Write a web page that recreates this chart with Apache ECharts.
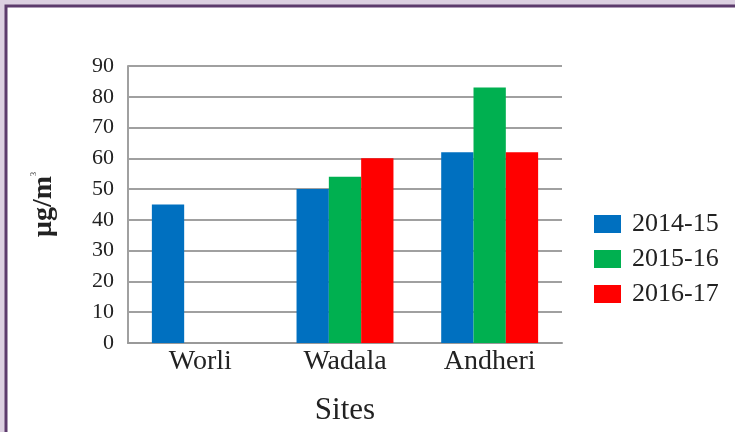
<!DOCTYPE html>
<html><head><meta charset="utf-8">
<script src="https://cdn.jsdelivr.net/npm/echarts@6/dist/echarts.min.js"></script>
<style>html,body{margin:0;padding:0;background:#dcd0e1;}#c{width:735px;height:432px;}</style>
</head><body><div id="c"></div>
<script>
var categories = ['Worli', 'Wadala', 'Andheri'];
var seriesNames = ['2014-15', '2015-16', '2016-17'];
var v2014 = [45, 50, 62];
var v2015 = [null, 54, 83];
var v2016 = [null, 60, 62];
var yTicks = [0, 10, 20, 30, 40, 50, 60, 70, 80, 90];
var colors = ['#0070C0', '#00B050', '#FF0000'];

var serif = '"Liberation Serif", "DejaVu Serif", serif';
var chart = echarts.init(document.getElementById('c'), null, {renderer: 'canvas'});
var vals = [v2014, v2015, v2016];
chart.setOption({
  backgroundColor: '#dcd0e1',
  animation: false,
  graphic: [{
    type: 'rect', z: -10, silent: true,
    shape: {x: 6, y: 6, width: 740, height: 440},
    style: {fill: '#ffffff', stroke: '#5c3b6c', lineWidth: 3}
  }],
  grid: {left: 128, right: 173, top: 66, bottom: 89},
  legend: {
    orient: 'vertical', left: 589, top: 206,
    itemWidth: 27, itemHeight: 18, itemGap: 9,
    icon: 'rect',
    textStyle: {fontFamily: serif, fontSize: 26, color: '#222', padding: [0, 0, 0, 6]},
    data: seriesNames
  },
  xAxis: {
    type: 'category', data: categories,
    axisLine: {show: true, lineStyle: {color: '#999', width: 2}},
    axisTick: {show: false},
    axisLabel: {fontFamily: serif, fontSize: 28, color: '#222', margin: 5},
    name: 'Sites', nameLocation: 'middle', nameGap: 52,
    nameTextStyle: {fontFamily: serif, fontSize: 31, color: '#222'}
  },
  yAxis: {
    type: 'value', min: yTicks[0], max: yTicks[yTicks.length - 1], interval: 10,
    axisLine: {show: true, lineStyle: {color: '#a0a0a0', width: 2}},
    axisTick: {show: false},
    splitLine: {show: true, lineStyle: {color: '#a0a0a0', width: 2}},
    axisLabel: {fontFamily: serif, fontSize: 22, color: '#222', margin: 14},
    name: '{a|μg/m}{b|3}', nameLocation: 'middle', nameRotate: 90, nameGap: 70,
    nameTextStyle: {
      rich: {
        a: {fontFamily: serif, fontSize: 28, fontWeight: 'bold', color: '#222'},
        b: {fontFamily: serif, fontSize: 8, color: '#222', verticalAlign: 'top', padding: [0, 0, 14, 0]}
      }
    }
  },
  series: seriesNames.map(function (n, i) {
    return {
      name: n, type: 'bar', data: vals[i],
      barGap: '0%', barCategoryGap: '33%',
      itemStyle: {color: colors[i]}
    };
  })
});
</script></body></html>
